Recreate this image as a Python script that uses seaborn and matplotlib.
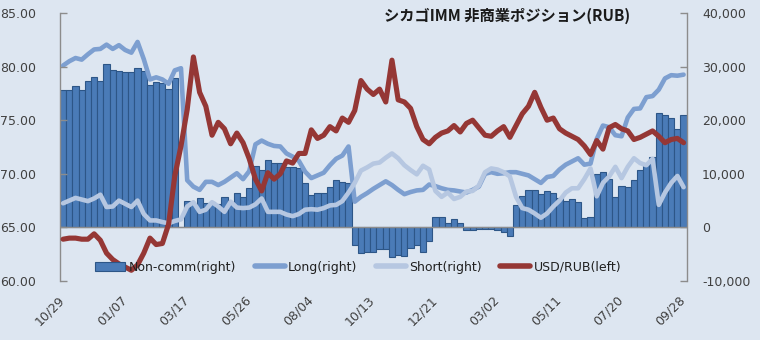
import numpy as np
import pandas as pd
import matplotlib
matplotlib.use("Agg")
import matplotlib.pyplot as plt
import matplotlib.transforms as mtransforms
from matplotlib.patches import Patch
from matplotlib.lines import Line2D
import seaborn as sns

weeks = list(range(101))
tick_pos = list(range(0, 101, 10))
tick_labels = ['10/29', '01/07', '03/17', '05/26', '08/04', '10/13',
               '12/21', '03/02', '05/11', '07/20', '09/28']

noncomm = [25700, 25700, 26300, 25700, 27400, 28000, 27300, 30400, 29400, 29100,
           28900, 28900, 29700, 29100, 26500, 27200, 27000, 25900, 27800, 0,
           5000, 4400, 5400, 4500, 4800, 4400, 5700, 4800, 6500, 5600,
           7300, 11400, 10800, 12600, 12100, 12000, 11300, 11300, 11000, 8300,
           6000, 6500, 6500, 7600, 8800, 8400, 8200, -3300, -4850, -4550,
           -4550, -4100, -4100, -5600, -5150, -5250, -3800, -3200, -4650, -2550,
           1850, 2000, 900, 1600, 900, -400, -560, -300, -300, -300,
           -400, -930, -1550, 4100, 5800, 6900, 6900, 6300, 6800, 6500,
           5500, 4900, 5300, 4700, 1800, 2000, 10000, 10400, 9000, 5700,
           7800, 7600, 8900, 10800, 11600, 13100, 21400, 21000, 20400, 18300,
           20900]

long_pos = [30200, 31000, 31600, 31300, 32300, 33200, 33300, 34100, 33300, 34000,
            33100, 32600, 34600, 31400, 27600, 28000, 27600, 26800, 29300, 29700,
            8800, 7600, 7000, 8500, 8500, 7900, 8500, 9300, 10100, 9000,
            10500, 15500, 16200, 15600, 15200, 15100, 13800, 13200, 12400, 10400,
            9200, 9700, 10200, 11600, 12800, 13400, 15100, 4800, 5700, 6400,
            7200, 7900, 8600, 7900, 7000, 6200, 6600, 6900, 7000, 8000,
            7700, 7300, 7000, 6900, 6700, 6500, 7000, 7600, 10000, 10300,
            10000, 10100, 10300, 10300, 10000, 9700, 9000, 8300, 9400, 9600,
            10800, 11700, 12300, 12900, 11700, 11900, 16500, 19000, 18700, 17200,
            17000, 20500, 22100, 22200, 24300, 24500, 25700, 27800, 28400, 28300,
            28500]

short_pos = [4500, 5000, 5500, 5200, 4900, 5400, 6100, 3800, 3900, 5000,
             4400, 3800, 5000, 2500, 1300, 1300, 1000, 750, 1200, 1500,
             3900, 4700, 2900, 3300, 4700, 3900, 2900, 4800, 3700, 3600,
             3700, 4300, 5400, 2900, 2900, 2900, 2400, 2100, 2500, 3300,
             3400, 3300, 3600, 4100, 4200, 4900, 6500, 8300, 10600, 11200,
             11900, 12100, 13000, 13800, 12900, 11600, 10700, 9900, 11500, 10800,
             6800, 5700, 6500, 5300, 5700, 6700, 6800, 7800, 10300, 11000,
             10800, 10300, 9500, 5700, 3600, 3300, 2600, 1800, 2600, 3900,
             5000, 6500, 7300, 7300, 9000, 11000, 5800, 8300, 9500, 11300,
             9200, 11300, 12900, 12000, 11600, 12800, 4200, 6500, 8300, 9600,
             7500]

usdrub = [63.9, 64.0, 64.0, 63.9, 63.9, 64.4, 63.8, 62.6, 62.0, 61.6,
          61.3, 61.0, 61.5, 62.6, 64.0, 63.4, 63.5, 65.3, 69.8, 72.6,
          76.0, 80.9, 77.6, 76.3, 73.6, 74.8, 74.2, 72.8, 73.8, 72.9,
          71.4, 69.5, 68.4, 70.1, 69.5, 70.0, 71.2, 71.0, 71.9, 71.9,
          74.1, 73.3, 73.6, 74.4, 74.0, 75.2, 74.8, 75.9, 78.7, 77.9,
          77.4, 77.9, 76.7, 80.6, 76.9, 76.7, 76.1, 74.4, 73.2, 72.8,
          73.4, 73.8, 74.0, 74.5, 73.9, 74.7, 75.0, 74.3, 73.6, 73.5,
          74.0, 74.4, 73.4, 74.5, 75.6, 76.3, 77.6, 76.2, 75.0, 75.2,
          74.2, 73.8, 73.5, 73.2, 72.6, 71.8, 73.1, 72.3, 74.3, 74.6,
          74.2, 74.0, 73.2, 73.4, 73.7, 74.0, 73.5, 72.9, 73.2, 73.3,
          72.9]

BG = '#dde6f1'
BAR = '#4a7bb7'
BAR_EDGE = '#2d5687'
LONG_C = '#7d9fd0'
SHORT_C = '#b6c7e1'
RED = '#953735'
GRAY = '#8c8c8c'
TXT = '#404040'

sns.set_theme(style='white')
plt.rcParams['font.family'] = ['DejaVu Sans', 'Noto Sans CJK JP']

fig = plt.figure(figsize=(7.6, 3.4), dpi=100, facecolor=BG)
ax = fig.add_axes([60 / 760, 59 / 340, 626.7 / 760, 268 / 340])
ax.set_facecolor(BG)

df = pd.DataFrame({'week': weeks, 'noncomm': noncomm, 'long': long_pos,
                   'short': short_pos, 'usdrub': usdrub})

sns.barplot(data=df, x='week', y='noncomm', ax=ax, color=BAR, saturation=1,
            width=1.0, edgecolor=BAR_EDGE, linewidth=0.8, native_scale=True,
            zorder=2)
ax.axhline(0, color=GRAY, lw=1.0, zorder=2.5)
sns.lineplot(data=df, x='week', y='long', ax=ax, color=LONG_C, lw=3.3,
             legend=False, zorder=3, solid_capstyle='round', solid_joinstyle='round')
sns.lineplot(data=df, x='week', y='short', ax=ax, color=SHORT_C, lw=3.3,
             legend=False, zorder=3, solid_capstyle='round', solid_joinstyle='round')

ax2 = ax.twinx()
sns.lineplot(data=df, x='week', y='usdrub', ax=ax2, color=RED, lw=3.7,
             legend=False, zorder=4, solid_capstyle='round', solid_joinstyle='round')

ax.set_xlim(-0.5, 100.5)
ax.set_ylim(-10000, 40000)
ax2.set_ylim(60, 85)

ax.yaxis.tick_right()
ax2.yaxis.tick_left()
ax.set_yticks(range(-10000, 40001, 10000))
ax.set_yticklabels([f'{v:,}' for v in range(-10000, 40001, 10000)])
ax2.set_yticks(range(60, 86, 5))
ax2.set_yticklabels([f'{v:.2f}' for v in range(60, 86, 5)])

ax.set_xticks(tick_pos)
ax.set_xticklabels(tick_labels, rotation=45, ha='right', rotation_mode='anchor')
ax.tick_params(axis='x', length=0, pad=9, labelsize=9, labelcolor=TXT)
ax.tick_params(axis='y', direction='in', length=5, width=1, color=GRAY,
               pad=11, labelsize=9, labelcolor=TXT)
ax2.tick_params(axis='y', direction='in', length=5, width=1, color=GRAY,
                pad=17, labelsize=9, labelcolor=TXT)
offset = mtransforms.ScaledTranslation(-5 / 100, 0, fig.dpi_scale_trans)
for lbl in ax.get_xticklabels():
    lbl.set_transform(lbl.get_transform() + offset)

for a in (ax, ax2):
    a.set_xlabel('')
    a.set_ylabel('')
    a.grid(False)
for s in ['top', 'bottom']:
    ax.spines[s].set_visible(False)
for s in ['left', 'right']:
    ax.spines[s].set_color(GRAY)
    ax.spines[s].set_linewidth(1)
for s in ax2.spines.values():
    s.set_visible(False)

handles = [Patch(facecolor=BAR, edgecolor=BAR_EDGE, linewidth=0.8),
           Line2D([], [], color=LONG_C, lw=4),
           Line2D([], [], color=SHORT_C, lw=4),
           Line2D([], [], color=RED, lw=4)]
labels = ['Non-comm(right)', 'Long(right)', 'Short(right)', 'USD/RUB(left)']
leg = ax2.legend(handles, labels, loc='center', bbox_to_anchor=(0.476, 0.052),
                 ncol=4, frameon=False, fontsize=9, handlelength=2.4,
                 columnspacing=1.5, handletextpad=0.25, labelcolor='#202020')

fig.text(507 / 760, 1 - 16 / 340, 'シカゴIMM 非商業ポジション(RUB)',
         ha='center', va='center', fontsize=11, fontweight='bold',
         family=['Noto Sans CJK JP', 'DejaVu Sans'], color='#1a1a1a')

fig.savefig('out.png', dpi=100, facecolor=BG)
